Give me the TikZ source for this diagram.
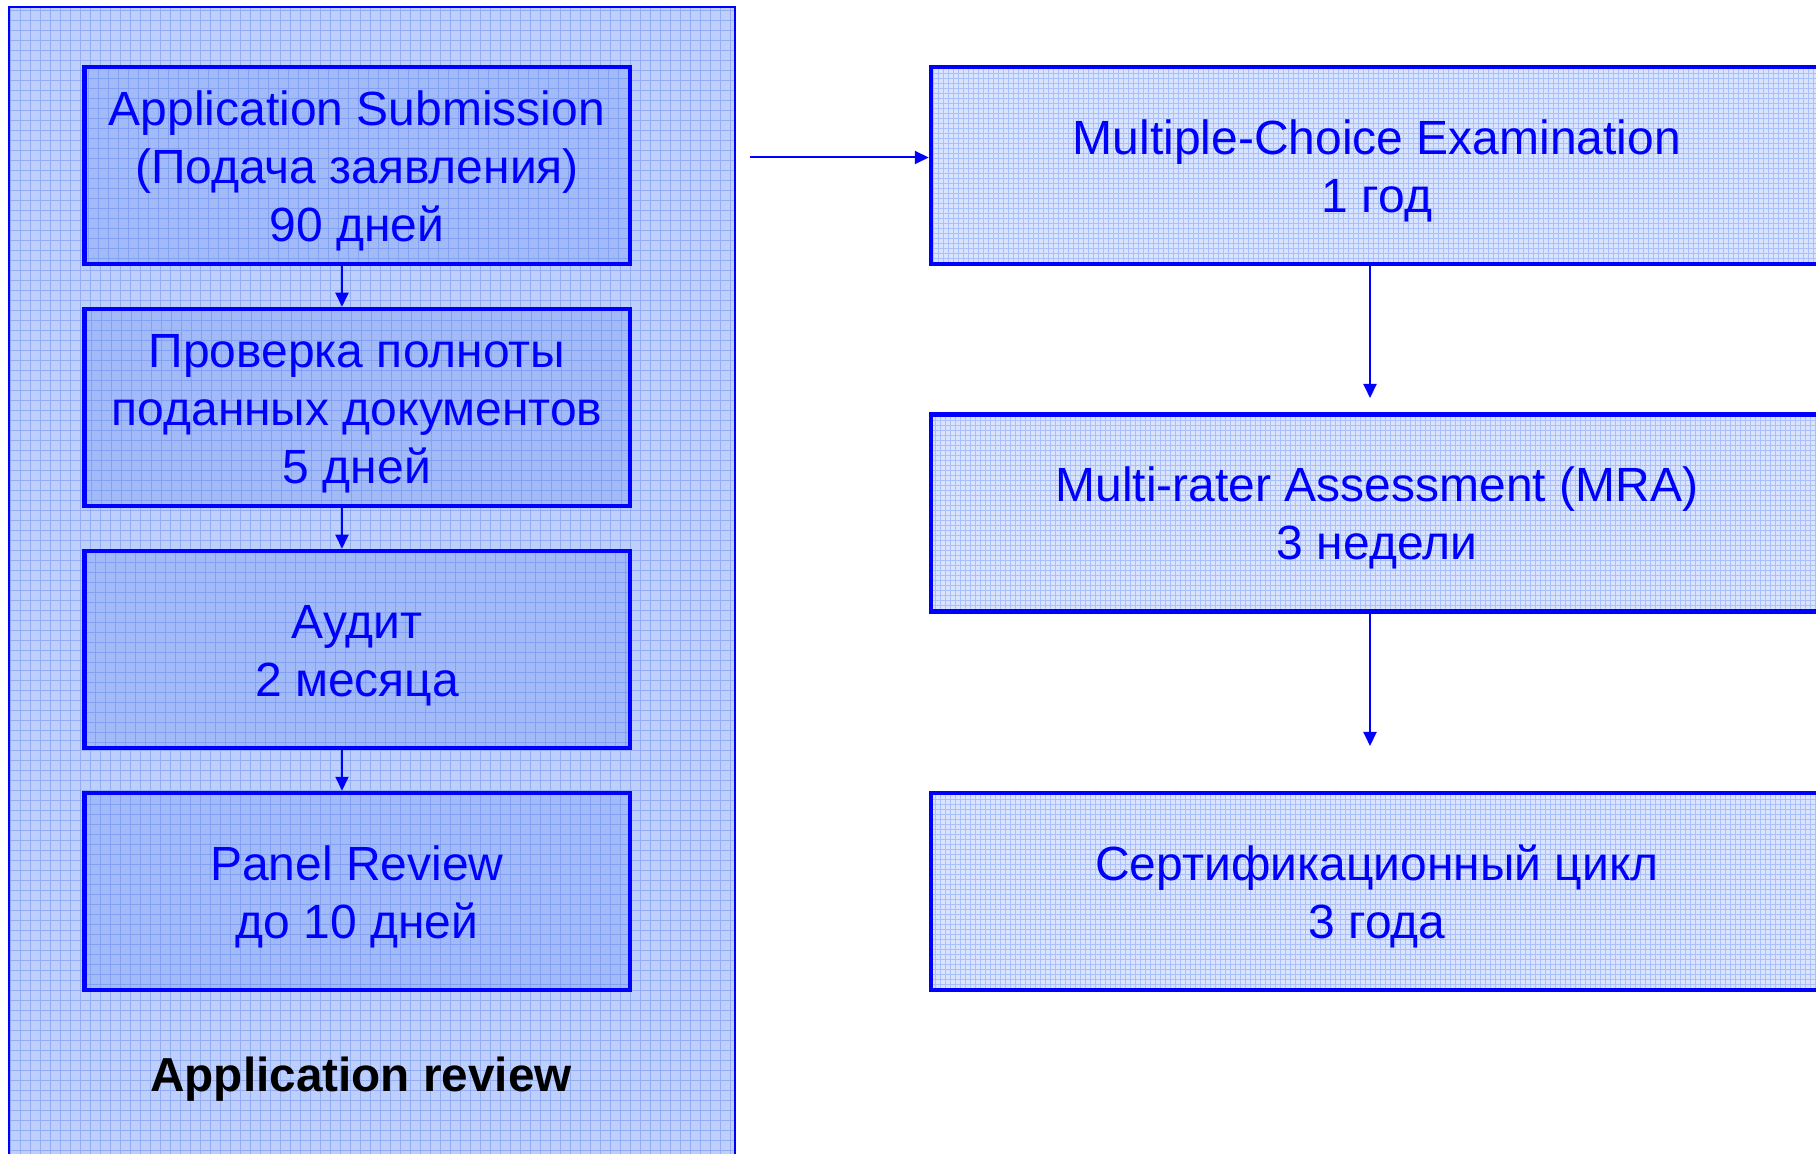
\documentclass[tikz,border=0pt]{standalone}
\usepackage{fontspec}
\setmainfont{Liberation Sans}
\usetikzlibrary{arrows.meta}
\definecolor{pblue}{RGB}{0,0,255}
\definecolor{panelfill}{RGB}{190,207,252}
\definecolor{panelgrid}{RGB}{148,174,246}
\definecolor{lboxfill}{RGB}{162,186,248}
\definecolor{lboxgrid}{RGB}{132,162,244}
\definecolor{rboxfill}{RGB}{218,228,255}
\definecolor{rboxgrid}{RGB}{170,192,252}
\newcommand{\lowtxt}[1]{\raisebox{-3pt}[\height][\depth]{\begin{tabular}{@{}c@{}}#1\end{tabular}}}
\begin{document}
\begin{tikzpicture}[x=0.5pt,y=-0.5pt,
  txt/.style={font=\fontsize{24pt}{29pt}\selectfont, text=pblue},
  lbox/.style={txt, draw=pblue, line width=2.25pt, fill=lboxfill,
    minimum width=272.75pt, minimum height=98.5pt, inner sep=0pt,
    path picture={\draw[lboxgrid, line width=0.4pt, step=5pt]
      (path picture bounding box.south west) grid (path picture bounding box.north east);}},
  rbox/.style={txt, draw=pblue, line width=2.25pt, fill=rboxfill,
    minimum width=446pt, minimum height=98.5pt, inner sep=0pt,
    path picture={\draw[rboxgrid, line width=0.3pt, step=2.5pt]
      (path picture bounding box.south west) grid (path picture bounding box.north east);}},
  arr/.style={pblue, line width=1pt, -{Triangle[length=7pt,width=6.5pt]}},
  lbl/.style={font=\bfseries\fontsize{23.85pt}{29pt}\selectfont, text=black}
]
\clip (0,0) rectangle (1816,1154);
% panel
\fill[panelfill] (9,7) rectangle (735,1170);
\begin{scope}
\clip (9,7) rectangle (735,1170);
\draw[panelgrid, line width=0.4pt, step=5pt] (0,0) grid (740,1170);
\end{scope}
\draw[pblue, line width=1pt] (9,1170) -- (9,7) -- (735,7) -- (735,1170);

% left boxes
\node[lbox] (a1) at (357,165.5) {\lowtxt{Application Submission\\(Подача заявления)\\90 дней}};
\node[lbox] (a2) at (357,407.5) {\lowtxt{Проверка полноты\\поданных документов\\5 дней}};
\node[lbox] (a3) at (357,649.5) {\lowtxt{Аудит\\2 месяца}};
\node[lbox] (a4) at (357,891.5) {\lowtxt{Panel Review\\до 10 дней}};
\node[lbl] (lab) at (361,1079) {Application review};

% right boxes
\node[rbox] (b1) at (1377,165.5) {\lowtxt{Multiple-Choice Examination\\1 год}};
\node[rbox] (b2) at (1377,513) {\lowtxt{Multi-rater Assessment (MRA)\\3 недели}};
\node[rbox] (b3) at (1377,891.5) {\lowtxt{Сертификационный цикл\\3 года}};

% connectors
\draw[arr] ([xshift=-7.5pt]a1.south) -- ([xshift=-7.5pt]a2.north);
\draw[arr] ([xshift=-7.5pt]a2.south) -- ([xshift=-7.5pt]a3.north);
\draw[arr] ([xshift=-7.5pt]a3.south) -- ([xshift=-7.5pt]a4.north);

\coordinate (s1) at (750,157.5);
\draw[arr] (s1) -- (s1 -| b1.west);

\coordinate (e1) at (1370,398);
\coordinate (e2) at (1370,746);
\draw[arr] (e1 |- b1.south) -- (e1);
\draw[arr] (e2 |- b2.south) -- (e2);
\end{tikzpicture}
\end{document}
